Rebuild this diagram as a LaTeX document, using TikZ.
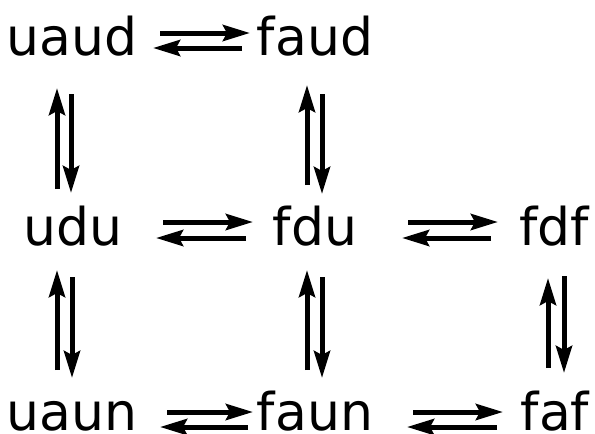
\documentclass[tikz,border=0pt]{standalone}
\usepackage{fontspec}
\setmainfont{DejaVu Sans}
\usetikzlibrary{arrows.meta}
\begin{document}
\begin{tikzpicture}[x=1pt,y=-1pt,
  lbl/.style={anchor=base,inner sep=0pt,font=\fontsize{52}{60}\selectfont},
  arr/.style={line width=5pt,-{Stealth[length=27pt,width=16pt,inset=4pt]}}]
\path[use as bounding box,fill=white] (0,0) rectangle (595,434);
\node[lbl] (uaud) at (72,55) {uaud};
\node[lbl] (faud) at (315,55) {faud};
\node[lbl] (udu) at (73,245) {udu};
\node[lbl] (fdu) at (315,245) {fdu};
\node[lbl] (fdf) at (554,245) {fdf};
\node[lbl] (uaun) at (72,430) {uaun};
\node[lbl] (faun) at (315,430) {faun};
\node[lbl] (faf) at (555,430) {faf};
% horizontal
\draw[arr] ([shift={(88,-22)}]uaud.base) -- ([shift={(-65,-22)}]faud.base);
\draw[arr] ([shift={(-73,-7)}]faud.base) -- ([shift={(81,-7)}]uaud.base);
\draw[arr] ([shift={(90,-23)}]udu.base) -- ([shift={(-62,-23)}]fdu.base);
\draw[arr] ([shift={(-69,-7)}]fdu.base) -- ([shift={(83,-7)}]udu.base);
\draw[arr] ([shift={(93,-23)}]fdu.base) -- ([shift={(-56,-23)}]fdf.base);
\draw[arr] ([shift={(-63,-7)}]fdf.base) -- ([shift={(87,-7)}]fdu.base);
\draw[arr] ([shift={(95,-18)}]uaun.base) -- ([shift={(-62,-18)}]faun.base);
\draw[arr] ([shift={(-67,-3)}]faun.base) -- ([shift={(88,-3)}]uaun.base);
\draw[arr] ([shift={(98,-18)}]faun.base) -- ([shift={(-52,-18)}]faf.base);
\draw[arr] ([shift={(-58,-3)}]faf.base) -- ([shift={(92,-3)}]faun.base);
% vertical
\draw[arr] ([shift={(-16,-56)}]udu.base) -- ([shift={(-15,33)}]uaud.base);
\draw[arr] ([shift={(-1,39)}]uaud.base) -- ([shift={(-2,-52)}]udu.base);
\draw[arr] ([shift={(-8,-60)}]fdu.base) -- ([shift={(-8,30)}]faud.base);
\draw[arr] ([shift={(7,39)}]faud.base) -- ([shift={(7,-51)}]fdu.base);
\draw[arr] ([shift={(-15,-60)}]uaun.base) -- ([shift={(-16,25)}]udu.base);
\draw[arr] ([shift={(-1,32)}]udu.base) -- ([shift={(0,-52)}]uaun.base);
\draw[arr] ([shift={(-8,-60)}]faun.base) -- ([shift={(-8,25)}]fdu.base);
\draw[arr] ([shift={(7,32)}]fdu.base) -- ([shift={(7,-52)}]faun.base);
\draw[arr] ([shift={(-7,-62)}]faf.base) -- ([shift={(-6,33)}]fdf.base);
\draw[arr] ([shift={(10,31)}]fdf.base) -- ([shift={(9,-57)}]faf.base);
\end{tikzpicture}
\end{document}
